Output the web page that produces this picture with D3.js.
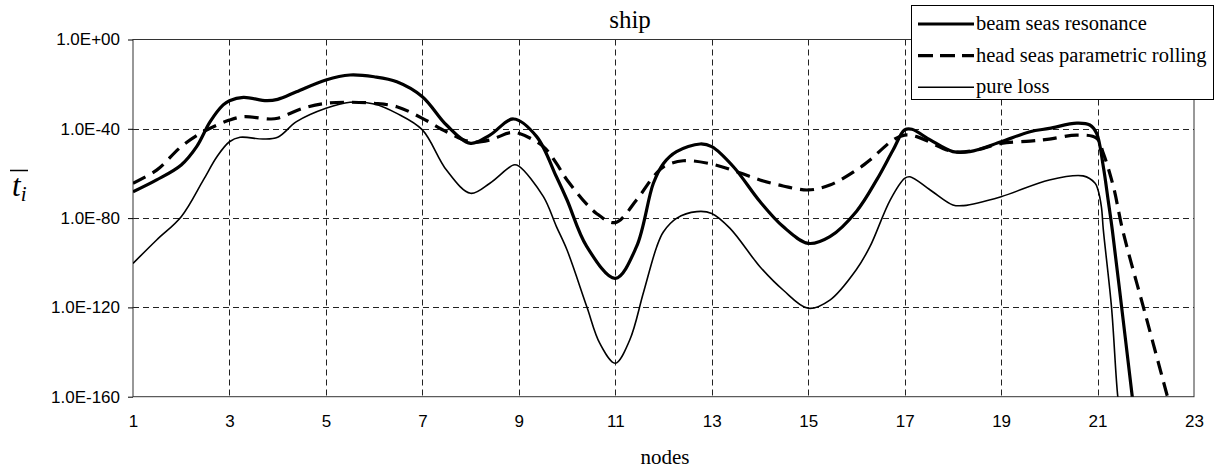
<!DOCTYPE html>
<html>
<head>
<meta charset="utf-8">
<script src="https://cdn.jsdelivr.net/npm/d3@7"></script>
<style>
  html, body { margin: 0; padding: 0; background: #fff; }
  svg { display: block; }
  .serif { font-family: "Liberation Serif", "Times New Roman", serif; }
  .sans { font-family: "Liberation Sans", Arial, sans-serif; }
</style>
</head>
<body>
<svg id="chart" width="1222" height="470"></svg>
<script>
// Node positions and log10 of mean time per node for each mode.
const xTicks = [1, 3, 5, 7, 9, 11, 13, 15, 17, 19, 21, 23];
const yTicks = [0, -40, -80, -120, -160];

const beamNodes = [1, 1.49, 2, 2.32, 2.6, 2.87, 3, 3.29, 3.77, 4, 4.39, 5, 5.5, 6, 6.47, 7, 7.5, 8, 8.4, 8.89, 9.37, 9.78, 10, 10.41, 11,
  11.44, 11.79, 12, 12.27, 12.76, 13, 13.45, 14, 14.48, 15, 15.45, 16, 16.42, 16.76, 17, 17.15, 17.53, 18, 18.35, 19, 19.6, 20,
  20.57, 20.84, 20.98, 21.12, 21.22, 21.31, 21.5, 21.72, 21.8];
const beamLog = [-68.2, -62.9, -56.2, -48.0, -36.8, -29.3, -27.4, -25.9, -27.4, -26.8, -23.4, -18.1, -15.9, -16.7, -18.9, -25.6, -38.3, -46.5, -42.8, -35.6, -43.5, -61.5, -71.9, -92.8, -107,
  -92.8, -64.4, -55.5, -50.2, -46.8, -48.0, -57.0, -72.6, -83.8, -91.3, -88.3, -77, -62.9, -49.5, -40.5, -40.2, -45.0, -50.2, -50.2, -45.8, -41.3, -39.8,
  -37.5, -38.3, -42.0, -57.0, -72.0, -86.0, -120, -160, -175];

const headNodes = [1, 1.49, 2, 2.46, 3, 3.29, 3.84, 4, 4.53, 5, 5.5, 6, 6.47, 7, 7.5, 8, 8.4, 8.82, 9, 9.51, 9.78, 10, 10.61, 11,
  11.44, 11.79, 12, 12.41, 13, 13.52, 14, 14.48, 15, 15.45, 16, 16.28, 16.76, 17, 17.25, 18, 18.49, 19, 19.6, 20,
  20.57, 20.98, 21.12, 21.33, 21.52, 22, 22.45, 22.6];
const headLog = [-64.4, -58.5, -48.0, -41.3, -36.1, -34.6, -35.6, -35.3, -30.8, -28.6, -28.1, -28.6, -30.1, -35.3, -41.3, -45.8, -45.0, -41.7, -42.0, -48.0, -55.5, -62.9, -77.9, -82.0,
  -71.9, -61.5, -57.0, -54.3, -55.8, -59.2, -62.9, -65.6, -67.4, -65.2, -58.5, -54.0, -45.0, -42.8, -43.5, -50.2, -49.5, -46.5, -45.5, -44.6,
  -42.8, -44.2, -51.0, -66.0, -85.3, -123.8, -160, -172];

const pureNodes = [1, 1.49, 2, 2.46, 2.74, 3, 3.22, 3.7, 4, 4.39, 5, 5.5, 6, 6.47, 7, 7.5, 8, 8.4, 8.89, 9, 9.51, 9.78, 10, 10.41, 10.68, 11,
  11.3, 11.58, 11.86, 12, 12.27, 12.69, 13, 13.38, 13.86, 14, 14.48, 15, 15.45, 16, 16.28, 16.7, 17, 17.11, 17.53, 18, 18.22, 19, 20,
  20.7, 20.95, 21.01, 21.08, 21.12, 21.29, 21.42, 21.5];
const pureLog = [-100.3, -89.8, -79.4, -62.9, -52.5, -45.8, -43.8, -44.6, -43.8, -36.8, -30.8, -28.1, -28.9, -33.1, -40.5, -58.5, -68.9, -64.4, -56.2, -56.7, -70.4, -83.8, -94.3, -119.7, -136.1, -145,
  -134.6, -113.7, -92.8, -86.1, -80.1, -77.1, -77.9, -84.6, -98.0, -101.8, -112.2, -120.4, -116.7, -103.0, -92.8, -71.9, -62.2, -61.5, -67.4, -74.1, -74.4, -70.4, -62.9,
  -61.1, -64.4, -67.4, -75.0, -85.3, -120, -160, -172];

const seriesNames = ["beam seas resonance", "head seas parametric rolling", "pure loss"];

const svg = d3.select("#chart");
const plot = { left: 133, right: 1194, top: 39.5, bottom: 396.7 };

const x = d3.scaleLinear().domain([1, 23]).range([plot.left, plot.right]);
const y = d3.scaleLinear().domain([-160, 0]).range([plot.bottom, plot.top]);

svg.append("defs").append("clipPath").attr("id", "plot-clip")
  .append("rect")
  .attr("x", plot.left).attr("y", plot.top)
  .attr("width", plot.right - plot.left).attr("height", plot.bottom - plot.top);

// dashed grid
const grid = svg.append("g").attr("stroke", "#222").attr("stroke-width", 1).attr("stroke-dasharray", "6,4");
grid.selectAll("line.h").data(yTicks.filter(d => d > -160 && d < 0)).join("line")
  .attr("x1", plot.left).attr("x2", plot.right)
  .attr("y1", d => Math.round(y(d)) + 0.5).attr("y2", d => Math.round(y(d)) + 0.5);
grid.selectAll("line.v").data(xTicks.filter(d => d > 1 && d < 23)).join("line")
  .attr("y1", plot.top).attr("y2", plot.bottom)
  .attr("x1", d => Math.round(x(d)) + 0.5).attr("x2", d => Math.round(x(d)) + 0.5);

// frame
svg.append("rect")
  .attr("x", plot.left).attr("y", plot.top)
  .attr("width", plot.right - plot.left).attr("height", plot.bottom - plot.top)
  .attr("fill", "none").attr("stroke", "#333").attr("stroke-width", 1);

// axes
const yAxis = d3.axisLeft(y).tickValues(yTicks).tickSize(5).tickPadding(8)
  .tickFormat(d => "1.0E" + (d === 0 ? "+00" : d));
const gy = svg.append("g").attr("transform", `translate(${plot.left},0)`).call(yAxis);
gy.attr("font-family", null).attr("font-size", null);
gy.select(".domain").remove();
gy.selectAll("text").attr("class", "sans")
  .style("font-size", "17px").attr("fill", "#000");

const xAxis = d3.axisBottom(x).tickValues(xTicks).tickSize(0).tickPadding(18)
  .tickFormat(d3.format("d"));
const gx = svg.append("g").attr("transform", `translate(0,${plot.bottom})`).call(xAxis);
gx.attr("font-family", null).attr("font-size", null);
gx.select(".domain").remove();
gx.selectAll("text").attr("class", "sans")
  .style("font-size", "17px").attr("fill", "#000");

// series lines
const line = d3.line().x(d => x(d[0])).y(d => y(d[1])).curve(d3.curveCatmullRom.alpha(0.5));
const series = [
  { name: seriesNames[0], pts: d3.zip(beamNodes, beamLog), width: 3.2, dash: null },
  { name: seriesNames[1], pts: d3.zip(headNodes, headLog), width: 3.2, dash: "14,8" },
  { name: seriesNames[2], pts: d3.zip(pureNodes, pureLog), width: 1.6, dash: null }
];
const lines = svg.append("g").attr("clip-path", "url(#plot-clip)");
lines.selectAll("path").data(series).join("path")
  .attr("d", d => line(d.pts))
  .attr("fill", "none").attr("stroke", "#000")
  .attr("stroke-width", d => d.width)
  .attr("stroke-dasharray", d => d.dash)
  .attr("stroke-linejoin", "round");

// title
svg.append("text").attr("class", "serif").attr("x", 630).attr("y", 28).attr("text-anchor", "middle")
  .style("font-size", "25px")
  .text("ship");

// x axis title
svg.append("text").attr("class", "serif").attr("x", 665).attr("y", 464).attr("text-anchor", "middle")
  .style("font-size", "21px")
  .text("nodes");

// y axis title: t with overbar, subscript i
const yl = svg.append("text").attr("class", "serif").attr("x", 12).attr("y", 196)
  .style("font-style", "italic");
yl.append("tspan").style("font-size", "31px").text("t");
yl.append("tspan").style("font-size", "21px").attr("dy", 5).text("i");
svg.append("line").attr("x1", 10).attr("x2", 28).attr("y1", 170.5).attr("y2", 170.5)
  .attr("stroke", "#000").attr("stroke-width", 1.5);

// legend
const lg = svg.append("g");
lg.append("rect").attr("x", 911.5).attr("y", 5.5).attr("width", 302).attr("height", 94)
  .attr("fill", "#fff").attr("stroke", "#000").attr("stroke-width", 1);
const rows = lg.selectAll("g.row").data(series).join("g")
  .attr("transform", (d, i) => `translate(0,${24 + i * 31.6})`);
rows.append("line").attr("x1", 918).attr("x2", 974).attr("y1", 0).attr("y2", 0)
  .attr("stroke", "#000").attr("stroke-width", d => d.width)
  .attr("stroke-dasharray", d => d.dash ? "15,7" : null);
rows.append("text").attr("class", "serif").attr("x", 976).attr("y", 6)
  .style("font-size", "20.5px")
  .text(d => d.name);
</script>
</body>
</html>
